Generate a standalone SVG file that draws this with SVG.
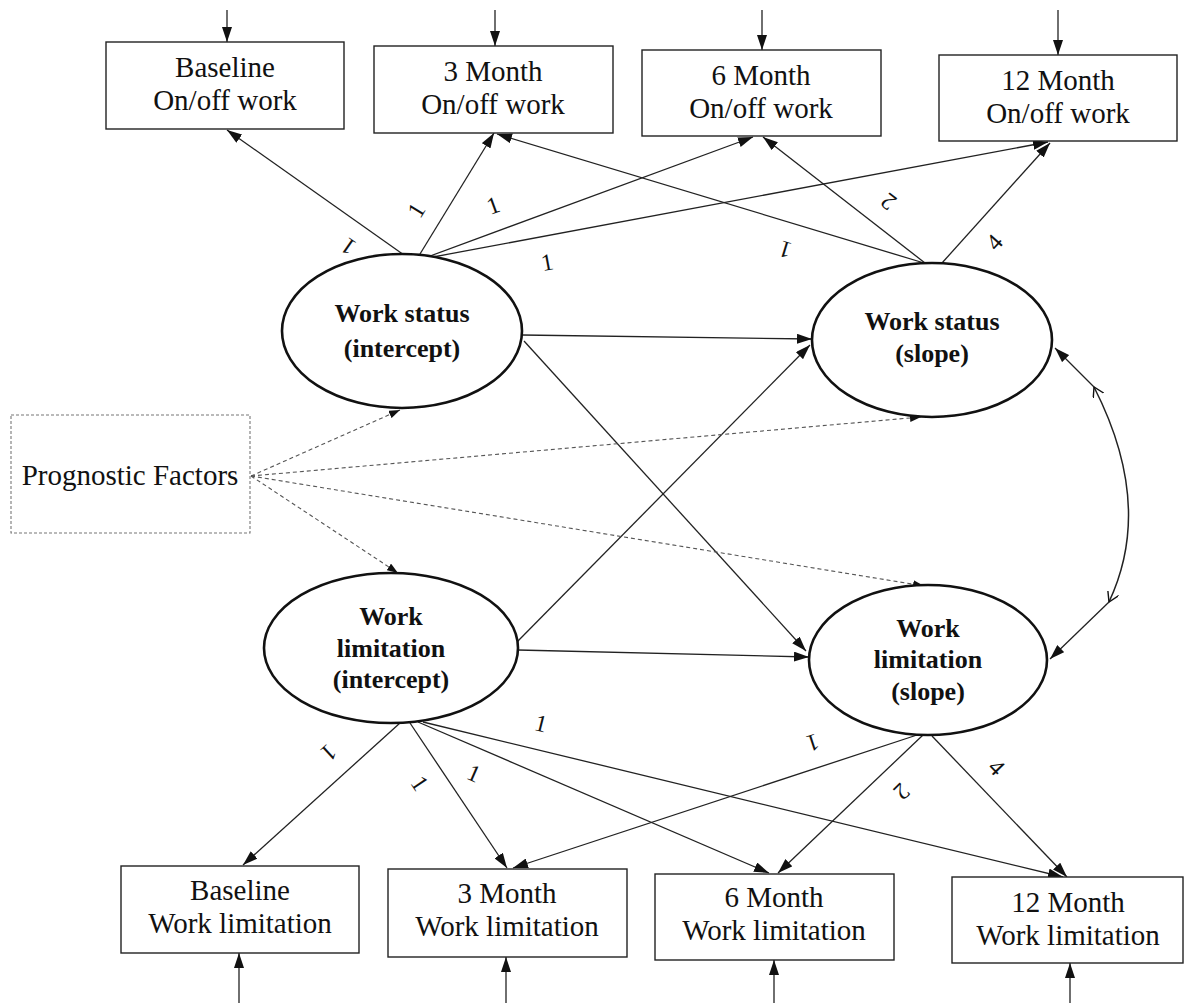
<svg xmlns="http://www.w3.org/2000/svg" width="1186" height="1003" viewBox="0 0 1186 1003">
<style>
.box{fill:#fff;stroke:#222;stroke-width:1.4}
.dbox{fill:#fff;stroke:#777;stroke-width:1.1;stroke-dasharray:3 2}
.ell{fill:#fff;stroke:#111;stroke-width:2.6}
.t{font-family:"Liberation Serif","Times New Roman",serif;font-size:29px;fill:#111;text-anchor:middle}
.b{font-family:"Liberation Serif","Times New Roman",serif;font-size:26px;font-weight:bold;fill:#111;text-anchor:middle}
.lab{font-family:"Liberation Serif","Times New Roman",serif;font-size:24px;fill:#111;text-anchor:middle}
.c{stroke:#222;stroke-width:1.3;fill:none;marker-end:url(#ah)}
.d{stroke:#555;stroke-width:1.1;stroke-dasharray:4 3;fill:none;marker-end:url(#ahs)}
</style>
<defs>
<marker id="ah" markerUnits="userSpaceOnUse" markerWidth="15" markerHeight="10" refX="15" refY="5" orient="auto"><path d="M0,0 L15,5 L0,10 z" fill="#111"/></marker>
<marker id="ahs" markerUnits="userSpaceOnUse" markerWidth="11" markerHeight="8" refX="11" refY="4" orient="auto"><path d="M0,0 L11,4 L0,8 z" fill="#111"/></marker>
<marker id="chev" markerUnits="userSpaceOnUse" markerWidth="12" markerHeight="12" refX="10" refY="6" orient="auto-start-reverse"><path d="M0,0 L10,6 L0,12" fill="none" stroke="#111" stroke-width="1.4"/></marker>
</defs>
<rect width="1186" height="1003" fill="#fff"/>

<g id="connectors">
  <!-- error arrows top -->
  <line class="c" x1="227" y1="10" x2="227" y2="42"/>
  <line class="c" x1="495" y1="10" x2="495" y2="46"/>
  <line class="c" x1="762" y1="10" x2="762" y2="50"/>
  <line class="c" x1="1058" y1="10" x2="1058" y2="55"/>
  <!-- error arrows bottom -->
  <line class="c" x1="239" y1="1003" x2="239" y2="953"/>
  <line class="c" x1="506" y1="1003" x2="506" y2="957"/>
  <line class="c" x1="774" y1="1003" x2="774" y2="960"/>
  <line class="c" x1="1070" y1="1003" x2="1070" y2="963"/>
  <!-- work status intercept loadings -->
  <line class="c" x1="404" y1="255" x2="227" y2="130"/>
  <line class="c" x1="420" y1="254" x2="494" y2="133"/>
  <line class="c" x1="430" y1="256" x2="753" y2="137"/>
  <line class="c" x1="433" y1="257" x2="1048" y2="142"/>
  <!-- work status slope loadings -->
  <line class="c" x1="924" y1="263" x2="497" y2="134"/>
  <line class="c" x1="925" y1="263" x2="763" y2="137"/>
  <line class="c" x1="942" y1="263" x2="1050" y2="143"/>
  <!-- structural paths -->
  <line class="c" x1="522" y1="335" x2="812" y2="339"/>
  <line class="c" x1="524" y1="341" x2="806" y2="651"/>
  <line class="c" x1="516" y1="643" x2="810" y2="345"/>
  <line class="c" x1="518" y1="650" x2="809" y2="657"/>
  <!-- prognostic factors -->
  <line class="d" x1="251" y1="476" x2="400" y2="410"/>
  <line class="d" x1="251" y1="476" x2="921" y2="417"/>
  <line class="d" x1="251" y1="476" x2="398" y2="573"/>
  <line class="d" x1="251" y1="476" x2="924" y2="586"/>
  <!-- covariance -->
  <path d="M1094,387 Q1154.5,505.5 1109,602" fill="none" stroke="#222" stroke-width="1.5" marker-start="url(#chev)" marker-end="url(#chev)"/>
  <line class="c" x1="1094" y1="387" x2="1055" y2="348"/>
  <line class="c" x1="1109" y1="602" x2="1050" y2="659"/>
  <!-- work limitation intercept loadings -->
  <line class="c" x1="400" y1="723" x2="243" y2="865"/>
  <line class="c" x1="410" y1="723" x2="507" y2="868"/>
  <line class="c" x1="418" y1="722" x2="769" y2="873"/>
  <line class="c" x1="423" y1="722" x2="1063" y2="877"/>
  <!-- work limitation slope loadings -->
  <line class="c" x1="917" y1="735" x2="513" y2="868"/>
  <line class="c" x1="923" y1="735" x2="778" y2="873"/>
  <line class="c" x1="932" y1="736" x2="1067" y2="877"/>
  <!-- path labels -->
  <text class="lab" transform="translate(348,247) rotate(-145)" dy="0.35em">1</text>
  <text class="lab" transform="translate(416,210) rotate(-58.5)" dy="0.35em">1</text>
  <text class="lab" transform="translate(493,205) rotate(-20)" dy="0.35em">1</text>
  <text class="lab" transform="translate(547,262) rotate(-10.5)" dy="0.35em">1</text>
  <text class="lab" transform="translate(785,250) rotate(-163)" dy="0.35em">1</text>
  <text class="lab" transform="translate(888,202) rotate(-142)" dy="0.35em">2</text>
  <text class="lab" transform="translate(994,242) rotate(-48)" dy="0.35em">4</text>
  <text class="lab" transform="translate(329,753) rotate(137.5)" dy="0.35em">1</text>
  <text class="lab" transform="translate(420,783) rotate(56)" dy="0.35em">1</text>
  <text class="lab" transform="translate(474,773) rotate(23.5)" dy="0.35em">1</text>
  <text class="lab" transform="translate(541,723) rotate(14)" dy="0.35em">1</text>
  <text class="lab" transform="translate(813,743) rotate(162)" dy="0.35em">1</text>
  <text class="lab" transform="translate(902,792) rotate(136)" dy="0.35em">2</text>
  <text class="lab" transform="translate(997,767) rotate(46)" dy="0.35em">4</text>
</g>

<g id="baseline-onoff"><rect class="box" x="106" y="42" width="238" height="87"/><text class="t" x="225" y="77">Baseline</text><text class="t" x="225" y="110">On/off work</text></g>
<g id="m3-onoff"><rect class="box" x="374" y="46" width="239" height="87"/><text class="t" x="493" y="81">3 Month</text><text class="t" x="493" y="114">On/off work</text></g>
<g id="m6-onoff"><rect class="box" x="642" y="50" width="239" height="86"/><text class="t" x="761" y="85">6 Month</text><text class="t" x="761" y="118">On/off work</text></g>
<g id="m12-onoff"><rect class="box" x="939" y="55" width="238" height="86"/><text class="t" x="1058" y="90">12 Month</text><text class="t" x="1058" y="123">On/off work</text></g>

<g id="ws-intercept"><ellipse class="ell" cx="402" cy="331" rx="120" ry="77"/><text class="b" x="402" y="322">Work status</text><text class="b" x="402" y="357">(intercept)</text></g>
<g id="ws-slope"><ellipse class="ell" cx="932" cy="340" rx="120" ry="77"/><text class="b" x="932" y="330">Work status</text><text class="b" x="932" y="362">(slope)</text></g>
<g id="wl-intercept"><ellipse class="ell" cx="391" cy="648" rx="127" ry="75"/><text class="b" x="391" y="625">Work</text><text class="b" x="391" y="657">limitation</text><text class="b" x="391" y="688">(intercept)</text></g>
<g id="wl-slope"><ellipse class="ell" cx="928" cy="660" rx="119" ry="75"/><text class="b" x="928" y="637">Work</text><text class="b" x="928" y="668">limitation</text><text class="b" x="928" y="700">(slope)</text></g>

<g id="prognostic"><rect class="dbox" x="11" y="415" width="239" height="118"/><text class="t" x="130" y="485">Prognostic Factors</text></g>

<g id="baseline-wl"><rect class="box" x="121" y="866" width="238" height="87"/><text class="t" x="240" y="900">Baseline</text><text class="t" x="240" y="933">Work limitation</text></g>
<g id="m3-wl"><rect class="box" x="388" y="869" width="239" height="88"/><text class="t" x="507" y="903">3 Month</text><text class="t" x="507" y="936">Work limitation</text></g>
<g id="m6-wl"><rect class="box" x="655" y="874" width="239" height="86"/><text class="t" x="774" y="907">6 Month</text><text class="t" x="774" y="940">Work limitation</text></g>
<g id="m12-wl"><rect class="box" x="952" y="877" width="231" height="86"/><text class="t" x="1068" y="912">12 Month</text><text class="t" x="1068" y="945">Work limitation</text></g>
</svg>
